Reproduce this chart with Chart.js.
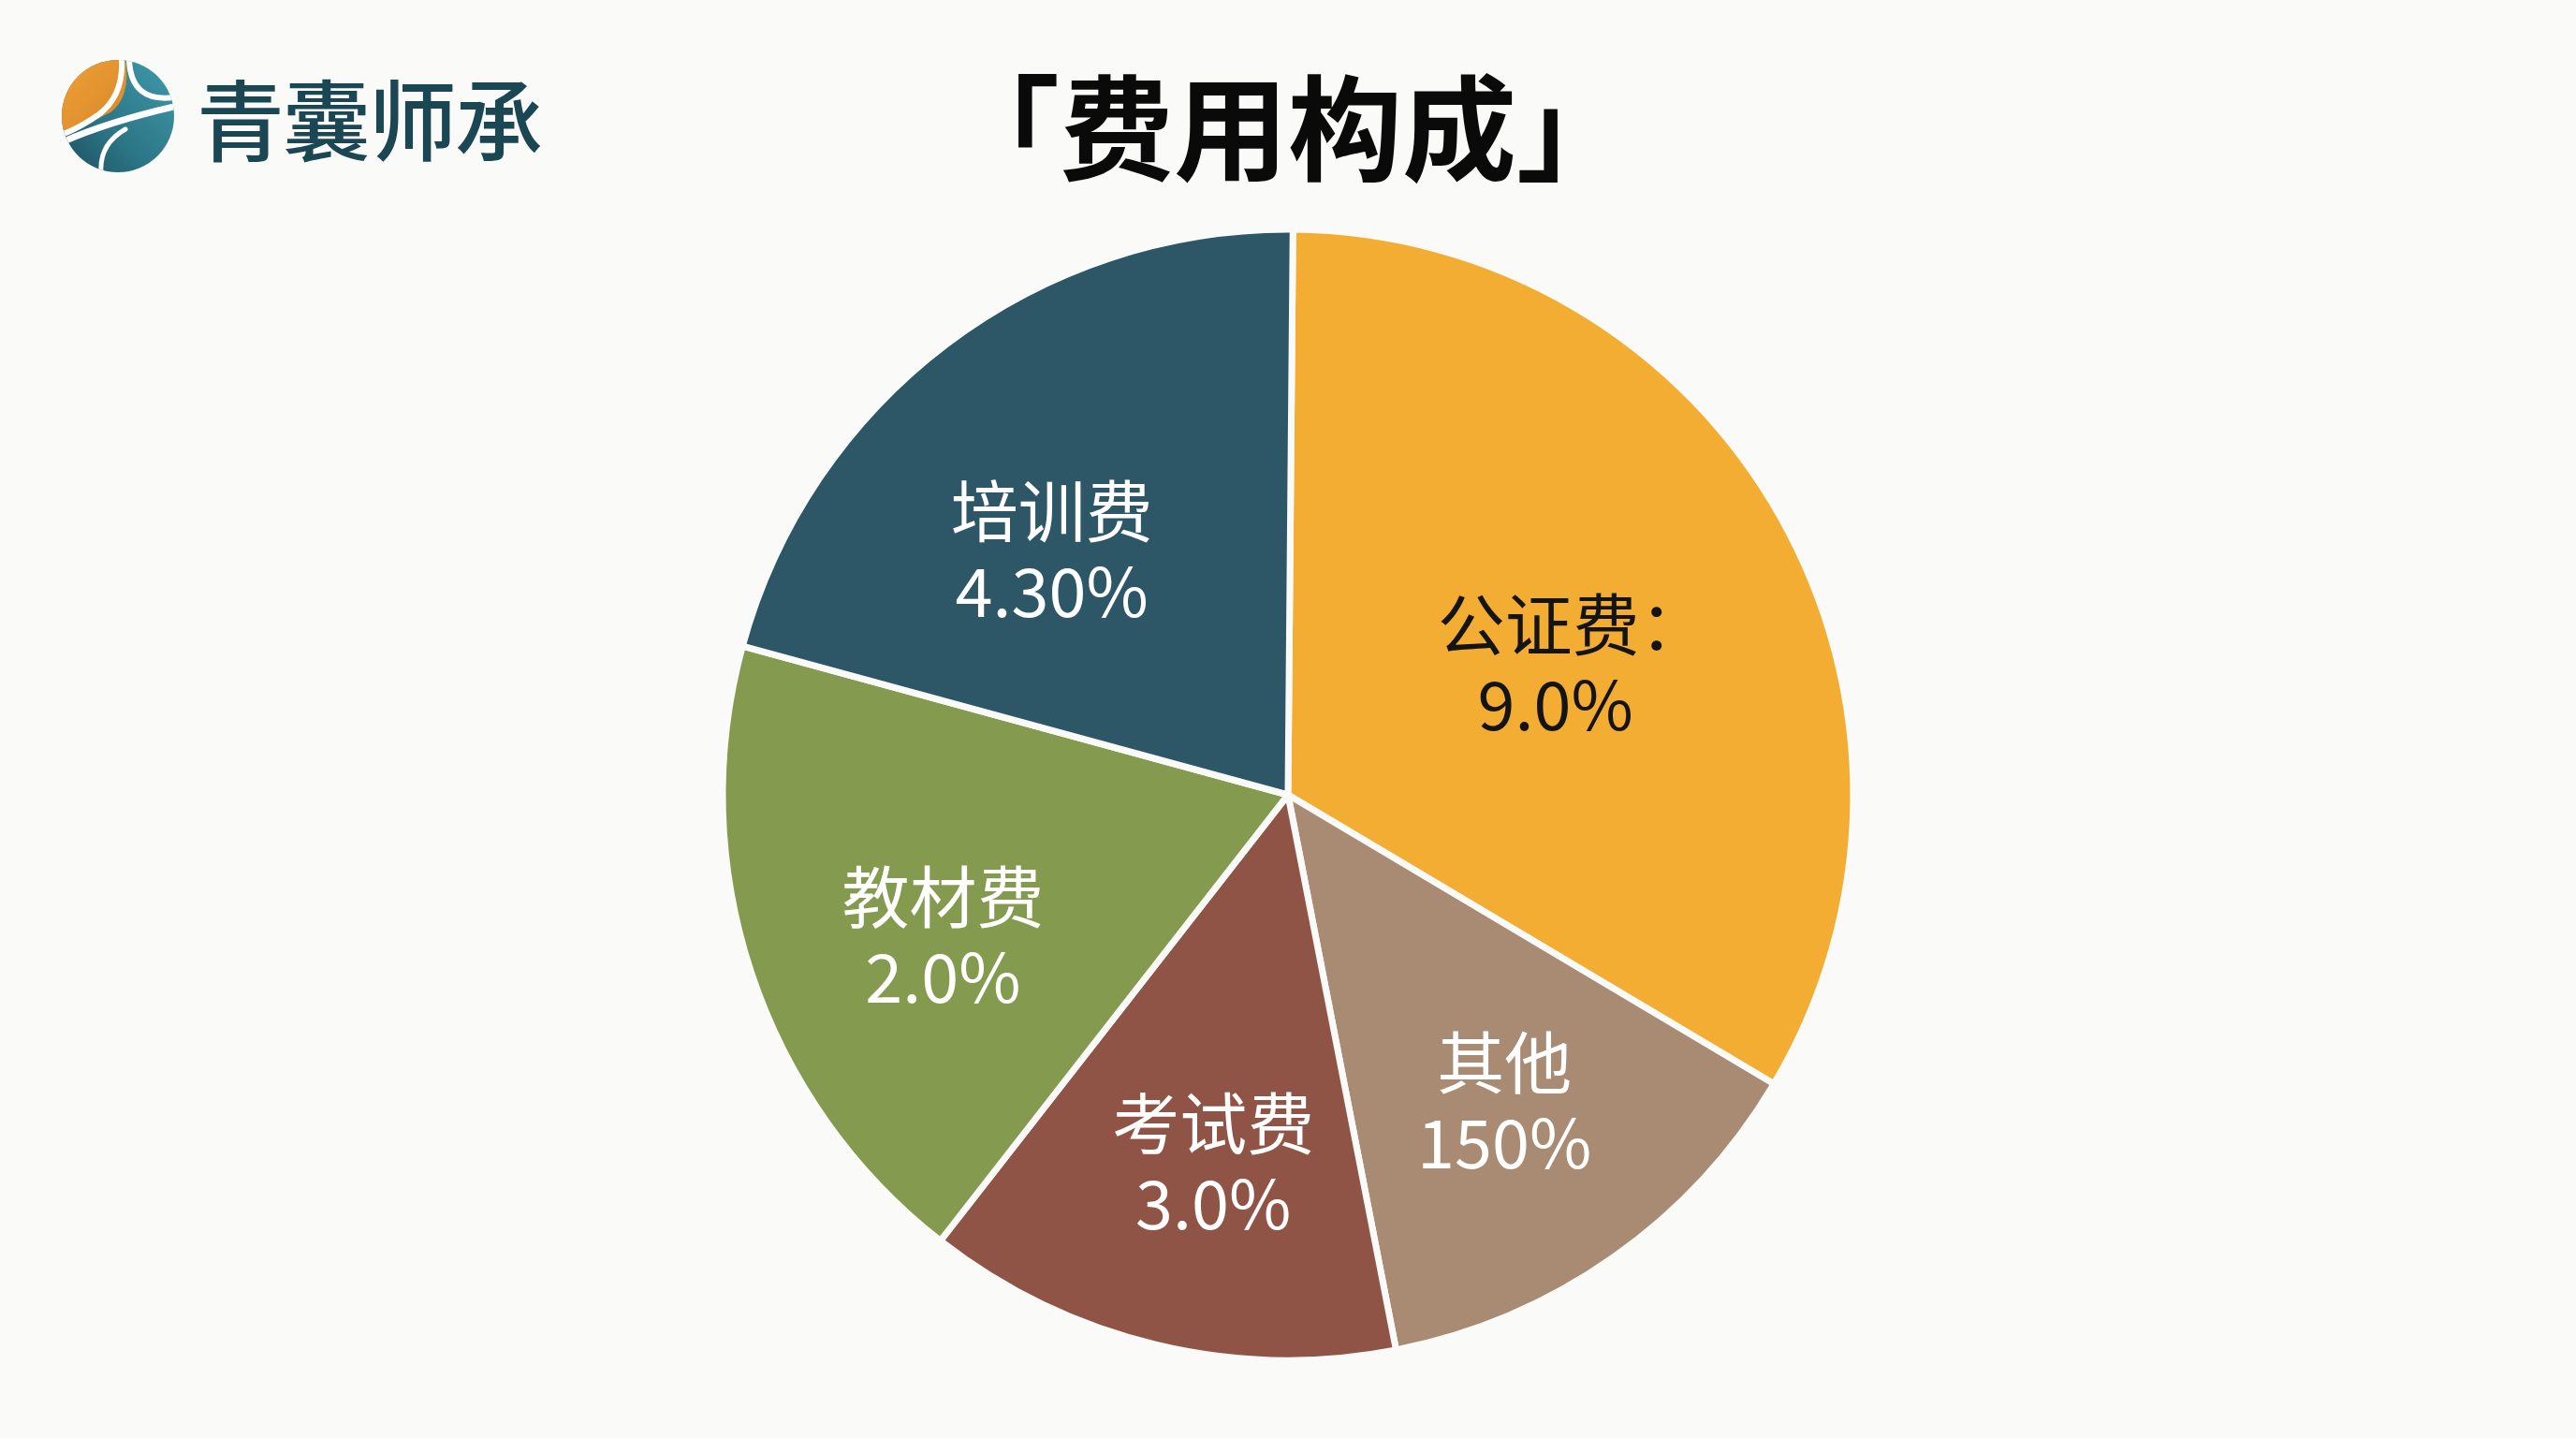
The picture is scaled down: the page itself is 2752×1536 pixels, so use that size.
<!DOCTYPE html>
<html>
<head>
<meta charset="utf-8">
<script src="https://cdn.jsdelivr.net/npm/chart.js@4.4.1/dist/chart.umd.min.js"></script>
<style>
  html, body { margin: 0; padding: 0; background: #fafaf8; }
  #page { position: relative; width: 2752px; height: 1536px; overflow: hidden; background: #fafaf8; }
  #chart { position: absolute; left: 0; top: 0; }
  #logo { position: absolute; left: 60px; top: 58px; }
  #brand {
    position: absolute; left: 210px; top: 62px;
    font-family: "Noto Sans CJK SC", "Noto Sans", sans-serif;
    font-size: 94px; font-weight: 500; color: #1b4653; line-height: 124px;
    letter-spacing: -2px;
  }
  #title {
    position: absolute; left: 0; width: 2752px; top: 60px; text-align: center;
    font-family: "Noto Sans CJK SC", "Noto Sans", sans-serif;
    font-size: 122px; font-weight: 700; color: #0a0a0a; line-height: 140px;
  }
</style>
</head>
<body>
<div id="page">
  <canvas id="chart" width="2752" height="1536"></canvas>
  <canvas id="logo" width="132" height="132"></canvas>
  <div id="brand">青囊师承</div>
  <div id="title">「费用构成」</div>
</div>
<script>
// slices clockwise from 12 o'clock
const categories = ['公证费', '其他', '考试费', '教材费', '培训费'];
const values = [33.4, 13.4, 13.6, 18.7, 20.9];
// text printed inside each slice, as shown in the picture
const nameLabels = ['公证费：', '其他', '考试费', '教材费', '培训费'];
const pctLabels = ['9.0%', '150%', '3.0%', '2.0%', '4.30%'];
const colors = ['#f3ad33', '#a98b73', '#8f5445', '#849a4f', '#2d5667'];
const labelColors = ['#141414', '#ffffff', '#ffffff', '#ffffff', '#ffffff'];

// logo mark
(function drawLogo() {
  const c = document.getElementById('logo').getContext('2d');
  const cx = 66, cy = 66, r = 60;
  c.save();
  c.beginPath();
  c.arc(cx, cy, r, 0, Math.PI * 2);
  c.clip();
  const g = c.createLinearGradient(cx + r, cy - r, cx - r, cy + r);
  g.addColorStop(0, '#3f9bab');
  g.addColorStop(0.6, '#2c7585');
  g.addColorStop(1, '#1d4f60');
  c.fillStyle = g;
  c.fillRect(0, 0, 132, 132);
  // orange leaf upper left
  const og = c.createLinearGradient(cx - r, cy - r, cx + 10, cy);
  og.addColorStop(0, '#f0a035');
  og.addColorStop(1, '#d98a2c');
  c.fillStyle = og;
  c.beginPath();
  c.moveTo(cx - r, cy - r);
  c.lineTo(cx + 8, cy - r);
  c.quadraticCurveTo(cx + 14, cy - 20, cx - 8, cy - 4);
  c.quadraticCurveTo(cx - 35, cy + 10, cx - r, cy + 18);
  c.closePath();
  c.fill();
  // white swooshes
  c.strokeStyle = '#ffffff';
  c.lineCap = 'round';
  c.lineWidth = 6;
  c.beginPath();
  c.moveTo(cx + 4, cy - r);
  c.quadraticCurveTo(cx + 6, cy - 22, cx - 20, cy - 2);
  c.quadraticCurveTo(cx - 40, cy + 12, cx - r, cy + 20);
  c.stroke();
  c.beginPath();
  c.moveTo(cx + 12, cy - r);
  c.quadraticCurveTo(cx + 14, cy - 14, cx + r, cy - 20);
  c.stroke();
  c.lineWidth = 7;
  c.beginPath();
  c.moveTo(cx - r, cy + 28);
  c.quadraticCurveTo(cx - 10, cy + 6, cx + r, cy - 10);
  c.stroke();
  c.lineWidth = 5;
  c.beginPath();
  c.moveTo(cx + 8, cy + 14);
  c.quadraticCurveTo(cx - 20, cy + 30, cx - 18, cy + r);
  c.stroke();
  c.restore();
})();

// two-line labels inside the slices
const sliceLabels = {
  id: 'sliceLabels',
  afterDatasetsDraw(chart, args, opts) {
    const ctx = chart.ctx;
    const arcs = chart.getDatasetMeta(0).data;
    ctx.save();
    ctx.font = '400 72px "Noto Sans CJK SC", "Noto Sans", sans-serif';
    ctx.textAlign = 'center';
    ctx.textBaseline = 'middle';
    arcs.forEach((arc, i) => {
      const p = arc.getProps(['x', 'y', 'startAngle', 'endAngle', 'outerRadius'], true);
      const mid = (p.startAngle + p.endAngle) / 2 + opts.turn[i] * Math.PI / 180;
      const rr = p.outerRadius * opts.dist[i];
      const lx = p.x + Math.cos(mid) * rr;
      const ly = p.y + Math.sin(mid) * rr;
      ctx.fillStyle = labelColors[i];
      ctx.fillText(nameLabels[i], lx + opts.shift1[i], ly - 43);
      ctx.fillText(pctLabels[i], lx + opts.shift2[i], ly + 43);
    });
    ctx.restore();
  }
};

new Chart(document.getElementById('chart'), {
  type: 'pie',
  data: {
    labels: categories,
    datasets: [{
      data: values,
      backgroundColor: colors,
      borderColor: '#fafaf8',
      borderWidth: 7,
      borderAlign: 'center'
    }]
  },
  options: {
    responsive: false,
    animation: false,
    rotation: 0.5,
    radius: 604,
    layout: { padding: { top: 200, bottom: 38, left: 0, right: 0 } },
    plugins: {
      legend: { display: false },
      tooltip: { enabled: false },
      sliceLabels: {
        dist: [0.54, 0.665, 0.665, 0.66, 0.6],
        turn: [4, 0, -2, -4, -7],
        shift1: [9, 0, 0, 0, 0],
        shift2: [-9, 0, 0, 0, 0]
      }
    }
  },
  plugins: [sliceLabels]
});
</script>
</body>
</html>
